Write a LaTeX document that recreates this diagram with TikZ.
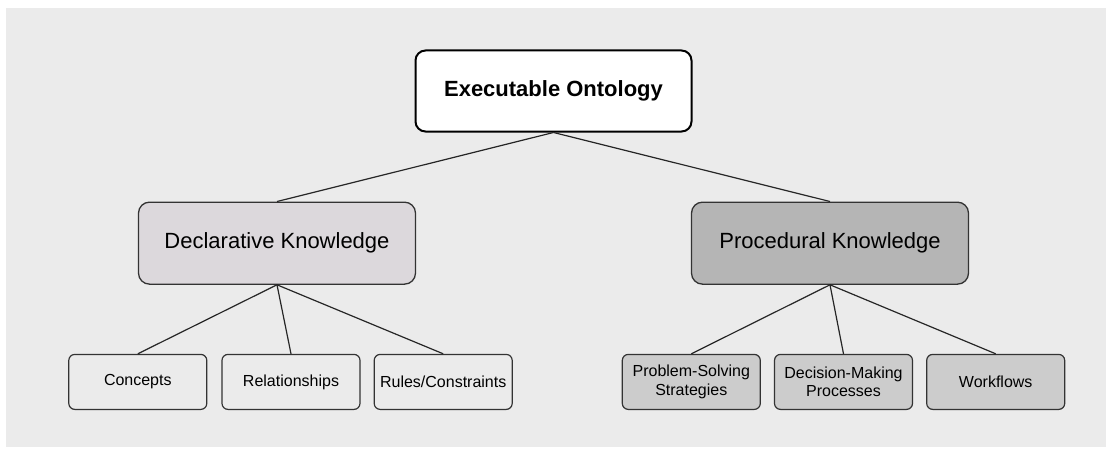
\documentclass[tikz,border=0pt]{standalone}
\usepackage{fontspec}
\setmainfont{Liberation Sans}
\usetikzlibrary{positioning}

\definecolor{bggray}{HTML}{EBEBEB}
\definecolor{declfill}{HTML}{DCD8DC}
\definecolor{procfill}{HTML}{B5B5B5}
\definecolor{procleaf}{HTML}{CCCCCC}
\definecolor{edgegray}{HTML}{333333}

\begin{document}
\begin{tikzpicture}[
    x=1pt, y=1pt,
    node distance=69pt and 13pt,
    root/.style={rectangle, draw=black, line width=2pt, fill=white, rounded corners=10pt,
        minimum width=276pt, minimum height=81pt, align=center,
        font=\fontsize{22}{26}\selectfont\bfseries},
    branch/.style={rectangle, draw=edgegray, line width=1.3pt, fill=#1, rounded corners=11pt,
        minimum width=277pt, minimum height=82pt, align=center,
        font=\fontsize{22}{26}\selectfont},
    leaf/.style={rectangle, draw=edgegray, line width=1.2pt, fill=#1, rounded corners=6pt,
        minimum width=138pt, minimum height=55pt, align=center, inner sep=1pt,
        font=\fontsize{16}{18.5}\selectfont},
    link/.style={draw=black!85, line width=1.2pt}
]

% Canvas
\useasboundingbox (0,0) rectangle (1111,-452);
\fill[bggray] (6,-8) rectangle (1106,-447);

% Root
\node[root] (onto) at (553.5,-91) {Executable Ontology};

% Two kinds of knowledge
\node[branch=declfill, below=69pt of onto, xshift=-276.5pt] (decl) {Declarative Knowledge};
\node[branch=procfill, below=69pt of onto, xshift=276.5pt] (proc) {Procedural Knowledge};

% Declarative leaves
\node[leaf=bggray, below=69pt of decl, xshift=14pt] (rel) {Relationships};
\node[leaf=bggray, left=14pt of rel] (conc) {Concepts};
\node[leaf=bggray, right=of rel] (rules) {Rules/Constraints};

% Procedural leaves
\node[leaf=procleaf, below=69pt of proc, xshift=13.5pt] (decide) {Decision-Making\\Processes};
\node[leaf=procleaf, left=of decide] (solve) {Problem-Solving\\Strategies};
\node[leaf=procleaf, right=of decide] (flows) {Workflows};

% Connectors
\draw[link] (onto.south) -- (decl.north);
\draw[link] (onto.south) -- (proc.north);

\draw[link] (decl.south) -- (conc.north);
\draw[link] (decl.south) -- (rel.north);
\draw[link] (decl.south) -- (rules.north);

\draw[link] (proc.south) -- (solve.north);
\draw[link] (proc.south) -- (decide.north);
\draw[link] (proc.south) -- (flows.north);

\end{tikzpicture}
\end{document}
